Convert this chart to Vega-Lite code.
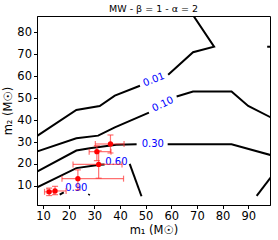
{
  "$schema": "https://vega.github.io/schema/vega-lite/v6.json",
  "autosize": {"type": "none"},
  "width": 233,
  "height": 189,
  "padding": {"left": 37, "top": 16, "right": 8, "bottom": 35},
  "config": {
    "font": "DejaVu Sans",
    "view": {"stroke": "black", "strokeWidth": 1},
    "axis": {"grid": false, "domainColor": "black", "tickColor": "black", "labelColor": "black", "titleColor": "black", "labelFontSize": 11.5, "titleFontSize": 11.5, "titleFontWeight": "normal", "tickSize": 3.5, "labelPadding": 2, "labelOverlap": false, "labelFlush": false}
  },
  "title": {"text": "MW - β = 1 - α = 2", "fontSize": 9.5, "fontWeight": "normal", "offset": 3, "color": "black"},
  "datasets": {
    "contours": [
      {"seg": "c01a", "i": 0, "x": 7.0, "y": 32.2},
      {"seg": "c01a", "i": 1, "x": 23.0, "y": 44.6},
      {"seg": "c01a", "i": 2, "x": 32.1, "y": 46.4},
      {"seg": "c01a", "i": 3, "x": 38.0, "y": 51.1},
      {"seg": "c01a", "i": 4, "x": 47.8, "y": 55.6},
      {"seg": "c01b", "i": 0, "x": 58.8, "y": 60.6},
      {"seg": "c01b", "i": 1, "x": 68.5, "y": 70.9},
      {"seg": "c01b", "i": 2, "x": 76.7, "y": 73.4},
      {"seg": "c01b", "i": 3, "x": 67.8, "y": 89.0},
      {"seg": "c01c", "i": 0, "x": 97.4, "y": 73.4},
      {"seg": "c01c", "i": 1, "x": 99.5, "y": 73.4},
      {"seg": "c10a", "i": 0, "x": 7.0, "y": 25.4},
      {"seg": "c10a", "i": 1, "x": 23.0, "y": 31.7},
      {"seg": "c10a", "i": 2, "x": 31.5, "y": 32.9},
      {"seg": "c10a", "i": 3, "x": 38.0, "y": 36.7},
      {"seg": "c10a", "i": 4, "x": 51.3, "y": 43.4},
      {"seg": "c10b", "i": 0, "x": 62.1, "y": 50.7},
      {"seg": "c10b", "i": 1, "x": 68.5, "y": 53.0},
      {"seg": "c10b", "i": 2, "x": 83.5, "y": 53.0},
      {"seg": "c10b", "i": 3, "x": 90.0, "y": 46.4},
      {"seg": "c10b", "i": 4, "x": 99.5, "y": 40.8},
      {"seg": "c30a", "i": 0, "x": 7.0, "y": 16.1},
      {"seg": "c30a", "i": 1, "x": 23.0, "y": 26.1},
      {"seg": "c30a", "i": 2, "x": 28.2, "y": 27.2},
      {"seg": "c30a", "i": 3, "x": 38.6, "y": 28.7},
      {"seg": "c30a", "i": 4, "x": 46.5, "y": 29.0},
      {"seg": "c30b", "i": 0, "x": 58.6, "y": 29.0},
      {"seg": "c30b", "i": 1, "x": 83.5, "y": 29.0},
      {"seg": "c30b", "i": 2, "x": 99.5, "y": 23.8},
      {"seg": "c60a", "i": 0, "x": 7.0, "y": 9.0},
      {"seg": "c60a", "i": 1, "x": 23.0, "y": 18.1},
      {"seg": "c60a", "i": 2, "x": 32.1, "y": 19.6},
      {"seg": "c60a", "i": 3, "x": 34.0, "y": 19.8},
      {"seg": "c60b", "i": 0, "x": 43.8, "y": 20.0},
      {"seg": "c60b", "i": 1, "x": 48.4, "y": 5.3},
      {"seg": "c60c", "i": 0, "x": 93.3, "y": 5.5},
      {"seg": "c60c", "i": 1, "x": 99.0, "y": 14.2},
      {"seg": "c90a", "i": 0, "x": 16.5, "y": 6.0},
      {"seg": "c90a", "i": 1, "x": 18.1, "y": 7.0},
      {"seg": "c90b", "i": 0, "x": 27.8, "y": 5.7},
      {"seg": "c90b", "i": 1, "x": 28.1, "y": 6.3}
    ],
    "labels": [
      {"label": "0.01", "x": 53.2, "y": 58.4},
      {"label": "0.10", "x": 56.7, "y": 47.2},
      {"label": "0.30", "x": 52.8, "y": 29.0},
      {"label": "0.60", "x": 38.6, "y": 21.0},
      {"label": "0.90", "x": 23.0, "y": 9.0}
    ],
    "points": [
      {"x": 36.3, "xlo": 30.4, "xhi": 41.6, "y": 29.1, "ylo": 25.0, "yhi": 33.2},
      {"x": 31.0, "xlo": 28.0, "xhi": 36.5, "y": 25.6, "ylo": 21.5, "yhi": 28.3},
      {"x": 31.7, "xlo": 21.7, "xhi": 40.8, "y": 19.8, "ylo": 13.5, "yhi": 26.0},
      {"x": 23.6, "xlo": 17.4, "xhi": 41.4, "y": 13.3, "ylo": 8.2, "yhi": 17.3},
      {"x": 12.4, "xlo": 10.6, "xhi": 14.2, "y": 7.3, "ylo": 5.6, "yhi": 9.0},
      {"x": 14.7, "xlo": 11.6, "xhi": 19.0, "y": 7.7, "ylo": 6.0, "yhi": 9.8}
    ]
  },
  "encoding": {
    "x": {"type": "quantitative", "scale": {"domain": [7.66, 98.5], "nice": false, "zero": false}, "axis": {"tickCount": 10, "labelOverlap": false, "labelFlush": false, "labelBound": false, "labelSeparation": 0, "title": "m₁ (M☉)", "titlePadding": 2}},
    "y": {"type": "quantitative", "scale": {"domain": [1.3, 87.4], "nice": false, "zero": false}, "axis": {"tickCount": 9, "labelOverlap": false, "labelFlush": false, "labelBound": false, "labelSeparation": 0, "title": "m₂ (M☉)", "titlePadding": 3}}
  },
  "layer": [
    {
      "data": {"name": "contours"},
      "mark": {"type": "line", "color": "black", "strokeWidth": 2, "clip": true},
      "encoding": {
        "x": {"field": "x", "type": "quantitative", "scale": {"domain": [7.66, 98.5], "nice": false, "zero": false}, "axis": {"tickCount": 10, "labelOverlap": false, "labelFlush": false, "labelBound": false, "labelSeparation": 0, "title": "m₁ (M☉)", "titlePadding": 2}},
        "y": {"field": "y", "type": "quantitative", "scale": {"domain": [1.3, 87.4], "nice": false, "zero": false}, "axis": {"tickCount": 9, "labelOverlap": false, "labelFlush": false, "labelBound": false, "labelSeparation": 0, "title": "m₂ (M☉)", "titlePadding": 3}},
        "detail": {"field": "seg"},
        "order": {"field": "i", "type": "quantitative"}
      }
    },
    {
      "data": {"name": "labels"},
      "transform": [{"filter": "datum.label == '0.01'"}],
      "mark": {"type": "text", "color": "blue", "fontSize": 10, "angle": -21},
      "encoding": {"x": {"field": "x", "type": "quantitative"}, "y": {"field": "y", "type": "quantitative"}, "text": {"field": "label"}}
    },
    {
      "data": {"name": "labels"},
      "transform": [{"filter": "datum.label == '0.10'"}],
      "mark": {"type": "text", "color": "blue", "fontSize": 10, "angle": -26},
      "encoding": {"x": {"field": "x", "type": "quantitative"}, "y": {"field": "y", "type": "quantitative"}, "text": {"field": "label"}}
    },
    {
      "data": {"name": "labels"},
      "transform": [{"filter": "datum.label != '0.01' && datum.label != '0.10'"}],
      "mark": {"type": "text", "color": "blue", "fontSize": 10},
      "encoding": {"x": {"field": "x", "type": "quantitative"}, "y": {"field": "y", "type": "quantitative"}, "text": {"field": "label"}}
    },
    {
      "data": {"name": "points"},
      "layer": [
        {"mark": {"type": "rule", "color": "#ff3333", "opacity": 0.7, "strokeWidth": 1.2}, "encoding": {"x": {"field": "xlo", "type": "quantitative"}, "x2": {"field": "xhi"}, "y": {"field": "y", "type": "quantitative"}}},
        {"mark": {"type": "rule", "color": "#ff3333", "opacity": 0.7, "strokeWidth": 1.2}, "encoding": {"y": {"field": "ylo", "type": "quantitative"}, "y2": {"field": "yhi"}, "x": {"field": "x", "type": "quantitative"}}},
        {"mark": {"type": "tick", "orient": "vertical", "color": "#ff3333", "opacity": 0.7, "size": 6, "thickness": 1.2}, "encoding": {"x": {"field": "xlo", "type": "quantitative"}, "y": {"field": "y", "type": "quantitative"}}},
        {"mark": {"type": "tick", "orient": "vertical", "color": "#ff3333", "opacity": 0.7, "size": 6, "thickness": 1.2}, "encoding": {"x": {"field": "xhi", "type": "quantitative"}, "y": {"field": "y", "type": "quantitative"}}},
        {"mark": {"type": "tick", "orient": "horizontal", "color": "#ff3333", "opacity": 0.7, "size": 6, "thickness": 1.2}, "encoding": {"x": {"field": "x", "type": "quantitative"}, "y": {"field": "ylo", "type": "quantitative"}}},
        {"mark": {"type": "tick", "orient": "horizontal", "color": "#ff3333", "opacity": 0.7, "size": 6, "thickness": 1.2}, "encoding": {"x": {"field": "x", "type": "quantitative"}, "y": {"field": "yhi", "type": "quantitative"}}},
        {"mark": {"type": "circle", "color": "red", "opacity": 1, "size": 28}, "encoding": {"x": {"field": "x", "type": "quantitative"}, "y": {"field": "y", "type": "quantitative"}}}
      ]
    }
  ]
}
